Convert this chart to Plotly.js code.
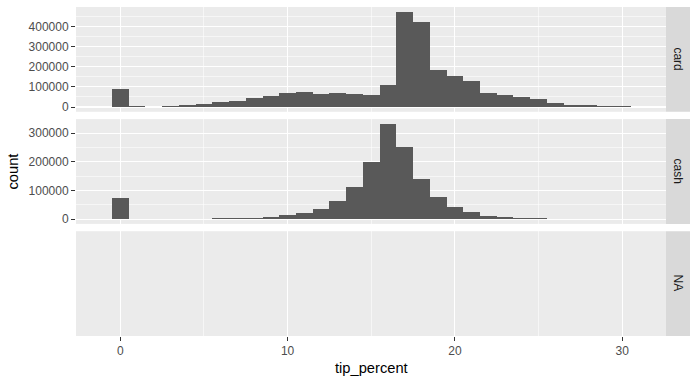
<!DOCTYPE html>
<html>
<head>
<meta charset="utf-8">
<script src="https://cdn.plot.ly/plotly-3.0.1.min.js"></script>
<style>html,body{margin:0;padding:0;background:#fff;}#chart{width:698px;height:381px;}</style>
</head>
<body>
<div id="chart"></div>
<script>
// bin centres of tip_percent (binwidth 1)
const binCenters = [0,1,2,3,4,5,6,7,8,9,10,11,12,13,14,15,16,17,18,19,20,21,22,23,24,25,26,27,28,29,30];
const cardCounts = [90000,5000,0,5000,11000,15000,25000,30000,43000,56000,70000,75000,66000,70000,65000,60000,109000,474000,424000,184000,154000,129000,69000,59000,49000,39000,19000,9000,9000,4000,4000];
const cashCounts = [73500,0,0,0,0,0,2500,2500,3000,7000,15000,21000,35000,64000,112000,199500,332500,252000,140000,77000,42000,25500,10500,7000,3500,3500,0,0,0,0,0];
const facetLabels = ["card","cash","NA"];
const xTicks = [0,10,20,30];
const cardTicks = [0,100000,200000,300000,400000];
const cashTicks = [0,100000,200000,300000];

const barColor = '#595959';
const font = 'Liberation Sans, Arial, sans-serif';

const traces = [
  {type:'bar', x: binCenters, y: cardCounts, width: 1, marker:{color:barColor, line:{width:0}}, xaxis:'x', yaxis:'y', hoverinfo:'skip'},
  {type:'bar', x: binCenters, y: cashCounts, width: 1, marker:{color:barColor, line:{width:0}}, xaxis:'x', yaxis:'y2', hoverinfo:'skip'},
  {type:'scatter', x: [], y: [], xaxis:'x', yaxis:'y3', hoverinfo:'skip'}
];

const plotTop = 7, plotBottom = 336, plotH = plotBottom - plotTop;
const gap = 7.3;
const panelH = (plotH - 2*gap)/3;
function dom(i){ // i=0 top
  const top = i*(panelH+gap);
  const bot = top + panelH;
  return [1 - bot/plotH, 1 - top/plotH];
}
const d = [dom(0), dom(1), dom(2)];

const cardMax = Math.max(...cardCounts);
const cashMax = Math.max(...cashCounts);

const tickFont = {family: font, size: 12, color: '#4D4D4D'};
function yAxis(domain, range, ticks){
  return {
    domain: domain, range: range, anchor: 'x',
    tickvals: ticks, ticktext: ticks.map(String),
    ticks: 'outside', ticklen: 4, tickwidth: 1, tickcolor: '#333333',
    showgrid: true, gridcolor: '#FFFFFF', gridwidth: 1.1,
    minor: {dtick: 50000, tick0: 0, showgrid: true, gridcolor: '#FFFFFF', gridwidth: 0.55, ticks: ''},
    zeroline: false, showline: false, tickfont: tickFont, fixedrange: true
  };
}

const plotW = 590;
const stripW = 24;
const shapes = [];
const annotations = [];
for (let i = 0; i < 3; i++) {
  shapes.push({type:'rect', xref:'paper', yref:'paper', x0:1, x1:1+stripW/plotW, y0:d[i][0], y1:d[i][1], fillcolor:'#D9D9D9', line:{width:0}, layer:'below'});
  annotations.push({xref:'paper', yref:'paper', x:1+stripW/2/plotW, y:(d[i][0]+d[i][1])/2, text:facetLabels[i], showarrow:false, textangle:90, font:{family:font, size:12, color:'#1A1A1A'}, xanchor:'center', yanchor:'middle'});
}
annotations.push({xref:'paper', yref:'paper', x:-64/plotW, y:0.5, text:'count', showarrow:false, textangle:-90, font:{family:font, size:14.7, color:'#000000'}, xanchor:'center', yanchor:'middle'});
annotations.push({xref:'paper', yref:'paper', x:0.5, y:-32/plotH, text:'tip_percent', showarrow:false, font:{family:font, size:14.7, color:'#000000'}, xanchor:'center', yanchor:'middle'});

const layout = {
  width: 698, height: 381,
  margin: {l:76, r:32, t:7, b:45, pad:0},
  paper_bgcolor: '#FFFFFF', plot_bgcolor: '#EBEBEB',
  showlegend: false, bargap: 0,
  font: {family: font},
  xaxis: {
    domain:[0,1], range:[-2.65, 32.62], anchor:'y3',
    tickvals: xTicks, ticktext: xTicks.map(String),
    ticks:'outside', ticklen:4, tickwidth:1, tickcolor:'#333333',
    showgrid:true, gridcolor:'#FFFFFF', gridwidth:1.1,
    minor:{dtick:5, tick0:0, showgrid:true, gridcolor:'#FFFFFF', gridwidth:0.55, ticks:''},
    zeroline:false, showline:false, tickfont: tickFont, fixedrange:true
  },
  yaxis: yAxis(d[0], [-0.05*cardMax, 1.05*cardMax], cardTicks),
  yaxis2: yAxis(d[1], [-0.05*cashMax, 1.05*cashMax], cashTicks),
  yaxis3: {domain: d[2], range:[0,1], anchor:'x', showgrid:false, showticklabels:false, ticks:'', zeroline:false, showline:false, fixedrange:true},
  shapes: shapes,
  annotations: annotations
};

Plotly.newPlot('chart', traces, layout, {staticPlot:true, displayModeBar:false});
</script>
</body>
</html>
